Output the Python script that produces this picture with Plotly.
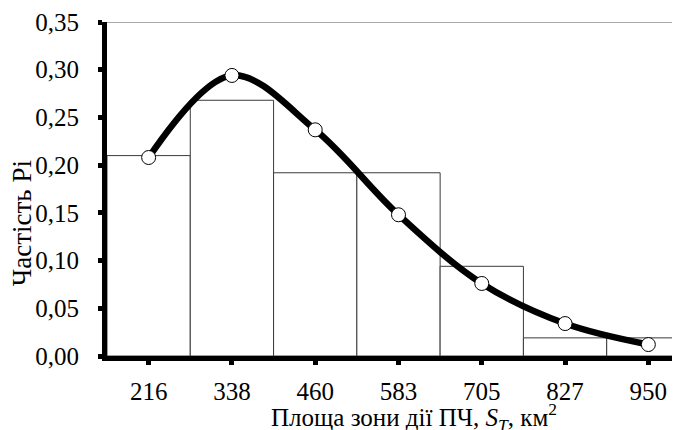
import plotly.graph_objects as go

categories = ["216", "338", "460", "583", "705", "827", "950"]
bar_values = [0.21, 0.268, 0.192, 0.192, 0.094, 0.019, 0.019]
curve_values = [0.208, 0.294, 0.237, 0.148, 0.076, 0.034, 0.012]
y_ticks = [0.0, 0.05, 0.10, 0.15, 0.20, 0.25, 0.30, 0.35]

FONT = "Liberation Serif"

fig = go.Figure()
fig.add_trace(go.Bar(
    x=categories, y=bar_values, width=1.0,
    marker=dict(color="white", line=dict(color="#3a3a3a", width=1)),
))
fig.add_trace(go.Scatter(
    x=categories, y=curve_values, mode="lines+markers",
    line=dict(color="black", width=6.5, shape="spline", smoothing=1.0),
    marker=dict(size=14, color="white", line=dict(color="black", width=1)),
))

# page body has an 8px margin, so the figure is drawn offset by (8, 8)
fig.update_layout(
    width=680, height=430,
    margin=dict(l=99, r=8, t=14, b=82),
    paper_bgcolor="white", plot_bgcolor="white",
    showlegend=False,
    separators=", ",
    font=dict(family=FONT, color="black", size=25),
    xaxis=dict(
        type="category", range=[-0.5, 6.38], automargin=False,
        showline=True, linecolor="black", linewidth=5,
        ticks="outside", ticklen=4, tickwidth=5, tickcolor="black",
        ticklabelstandoff=5,
        tickfont=dict(family=FONT, size=25),
        showgrid=False, zeroline=False,
    ),
    yaxis=dict(
        range=[0, 0.35], tickvals=y_ticks, tickformat=".2f", automargin=False,
        showline=True, linecolor="black", linewidth=5,
        ticks="outside", ticklen=4, tickwidth=5, tickcolor="black",
        ticklabelstandoff=14,
        tickfont=dict(family=FONT, size=25),
        showgrid=False, zeroline=False,
    ),
    shapes=[dict(type="line", xref="paper", yref="y", x0=0, x1=1, y0=0.35, y1=0.35,
                 line=dict(color="#555555", width=1))],
    annotations=[
        dict(text="Частість Рі", xref="paper", yref="paper", x=-0.148, y=0.398,
             textangle=-90, showarrow=False, font=dict(family=FONT, size=27),
             xanchor="center", yanchor="middle"),
        dict(text="Площа зони дії ПЧ, <i>S<sub>T</sub></i>, км<sup>2</sup>",
             xref="paper", yref="paper", x=0.536, y=-0.183, showarrow=False,
             font=dict(family=FONT, size=25), xanchor="center", yanchor="middle"),
    ],
)

fig.write_html("out.html")
